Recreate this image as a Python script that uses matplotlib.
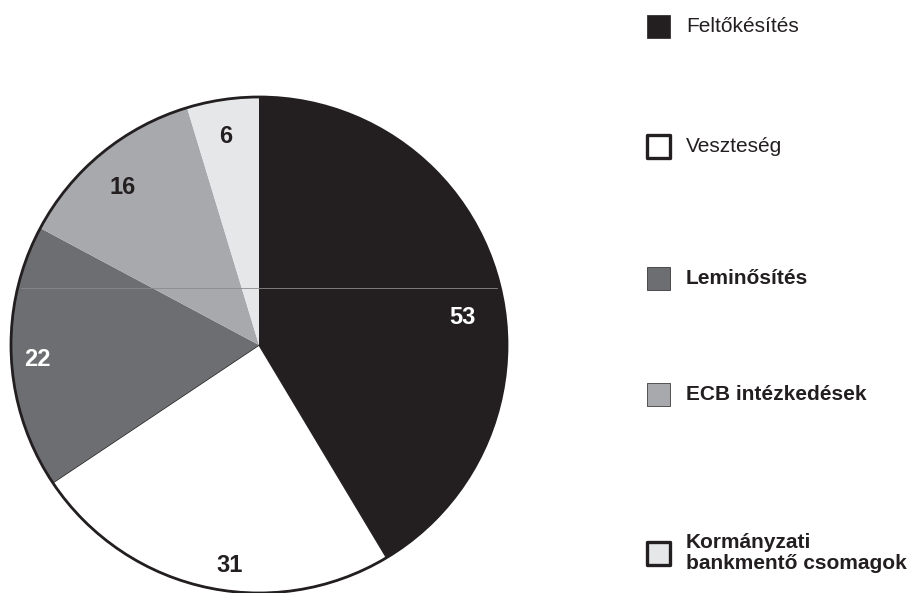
import matplotlib
matplotlib.use("Agg")
import matplotlib.pyplot as plt
from matplotlib.patches import Rectangle, Circle

plt.rcParams['font.family'] = ['Liberation Sans', 'DejaVu Sans']

# data
categories = ['Feltőkésítés', 'Veszteség', 'Leminősítés', 'ECB intézkedések',
              'Kormányzati\nbankmentő csomagok']
values = [53, 31, 22, 16, 6]
colors = ['#231f20', '#ffffff', '#6d6e71', '#a7a9ac', '#e6e7e8']
label_colors = ['white', '#231f20', 'white', '#231f20', '#231f20']
legend_bold = [False, False, True, True, True]

# layout: value label positions (pie units) and legend rows (pixels from top)
label_pos = [(0.82, 0.11), (-0.12, -0.89), (-0.895, -0.06), (-0.55, 0.635), (-0.135, 0.84)]
legend_rows = [26, 146, 278, 394, 553]

W, H = 912, 593
fig = plt.figure(figsize=(W / 100, H / 100), dpi=100)

# pie centered at (259, 345) px, radius 248 px
cx, cy, r = 259, 345, 248
ax = fig.add_axes([(cx - r) / W, (H - cy - r) / H, 2 * r / W, 2 * r / H])
wedges, _ = ax.pie(values, colors=colors, startangle=90, counterclock=False,
                   wedgeprops=dict(linewidth=0))
wedges[1].set_edgecolor('#231f20')
wedges[1].set_linewidth(1.0)
ax.add_patch(Circle((0, 0), 1.0, fill=False, ec='#231f20', lw=2.0, clip_on=False))
ax.plot([-0.96, 0.96], [0.23, 0.23], color='#8a8a8a', lw=0.6, clip_on=False)
ax.set_xlim(-1, 1)
ax.set_ylim(-1, 1)
ax.axis('off')

for v, (x, y), c in zip(values, label_pos, label_colors):
    ax.text(x, y, str(v), color=c, fontsize=17, fontweight='bold',
            ha='center', va='center')

# legend drawn by hand
for cat, col, bold, yrow in zip(categories, colors, legend_bold, legend_rows):
    sq = 23
    fig.patches.append(Rectangle((647 / W, (H - yrow - sq / 2) / H), sq / W, sq / H,
                                 transform=fig.transFigure, fc=col, ec='#231f20',
                                 lw=2.4 if col in ('#ffffff', '#e6e7e8') else 0.5,
                                 joinstyle='round'))
    fig.text(686 / W, (H - yrow) / H, cat, fontsize=15,
             fontweight='bold' if bold else 'normal', color='#231f20',
             ha='left', va='center', linespacing=1.1)

fig.savefig('out.png', dpi=100, facecolor='white')
plt.close(fig)
